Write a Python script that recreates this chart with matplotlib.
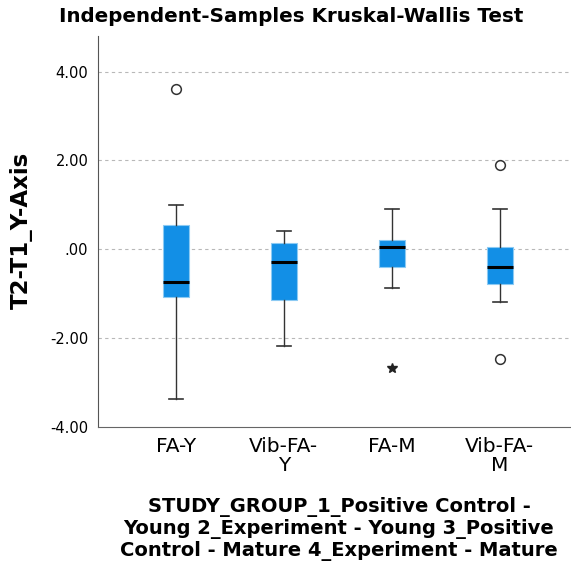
import matplotlib
matplotlib.use("Agg")
import matplotlib.pyplot as plt

categories = ["FA-Y", "Vib-FA-\nY", "FA-M", "Vib-FA-\nM"]
whisker_low = [-3.37, -2.18, -0.88, -1.19]
q1 = [-1.07, -1.14, -0.39, -0.78]
medians = [-0.74, -0.29, 0.06, -0.39]
q3 = [0.55, 0.14, 0.20, 0.04]
whisker_high = [1.00, 0.41, 0.90, 0.90]
outliers = [[3.60], [], [], [1.90, -2.48]]
extremes = [[], [], [-2.68], []]
yticks = [4.0, 2.0, 0.0, -2.0, -4.0]
ytick_labels = ["4.00", "2.00", ".00", "-2.00", "-4.00"]

fig = plt.figure(figsize=(5.71, 5.67), dpi=100)
ax = fig.add_axes([98/571, 1 - 427/567, 473/571, 391/567])

stats = []
for i in range(len(categories)):
    stats.append(dict(med=medians[i], q1=q1[i], q3=q3[i], whislo=whisker_low[i],
                      whishi=whisker_high[i], fliers=outliers[i]))
positions = list(range(1, len(categories) + 1))
ax.bxp(stats, positions=positions, widths=0.24, patch_artist=True, showfliers=True,
       boxprops=dict(facecolor="#128fe6", edgecolor="#8ccaf3", linewidth=0.8),
       medianprops=dict(color="black", linewidth=2.2),
       whiskerprops=dict(color="#333333", linewidth=1.0),
       capprops=dict(color="#333333", linewidth=1.2),
       capwidths=0.13,
       flierprops=dict(marker="o", markerfacecolor="none", markeredgecolor="#333333",
                       markersize=7, markeredgewidth=1.1))
for p, ex in zip(positions, extremes):
    if ex:
        ax.plot([p] * len(ex), ex, linestyle="none", marker="*", color="#222222", markersize=7)

ax.set_xlim(0.28, 4.66)
ax.set_ylim(-4.0, 4.8)
ax.set_yticks(yticks)
ax.set_yticklabels(ytick_labels, fontsize=10.5)
ax.set_xticks(positions)
ax.set_xticklabels(categories, fontsize=14.5, linespacing=1.05)
ax.tick_params(axis="both", length=0)
ax.tick_params(axis="y", pad=7)
ax.tick_params(axis="x", pad=7)
for yv in yticks[:-1]:
    ax.axhline(yv, color="#b8b8b8", linestyle=(0, (3, 3)), linewidth=0.8, zorder=0)
ax.spines["top"].set_visible(False)
ax.spines["right"].set_visible(False)
ax.spines["left"].set_color("#555555")
ax.spines["bottom"].set_color("#666666")
ax.spines["bottom"].set_linestyle((0, (3, 1)))

ax.set_ylabel("T2-T1_Y-Axis", fontsize=16.5, fontweight="bold")
ax.yaxis.set_label_coords(-(98 - 33) / 473, (427 - 230) / 391)
fig.text(291/571, 1 - 17/567, "Independent-Samples Kruskal-Wallis Test", ha="center", va="center",
         fontsize=14.3, fontweight="bold")
fig.text(339/571, 1 - 529/567,
         "STUDY_GROUP_1_Positive Control -\nYoung 2_Experiment - Young 3_Positive\nControl - Mature 4_Experiment - Mature",
         ha="center", va="center", fontsize=14, fontweight="bold", linespacing=1.12)

fig.savefig("out.png", dpi=100)
